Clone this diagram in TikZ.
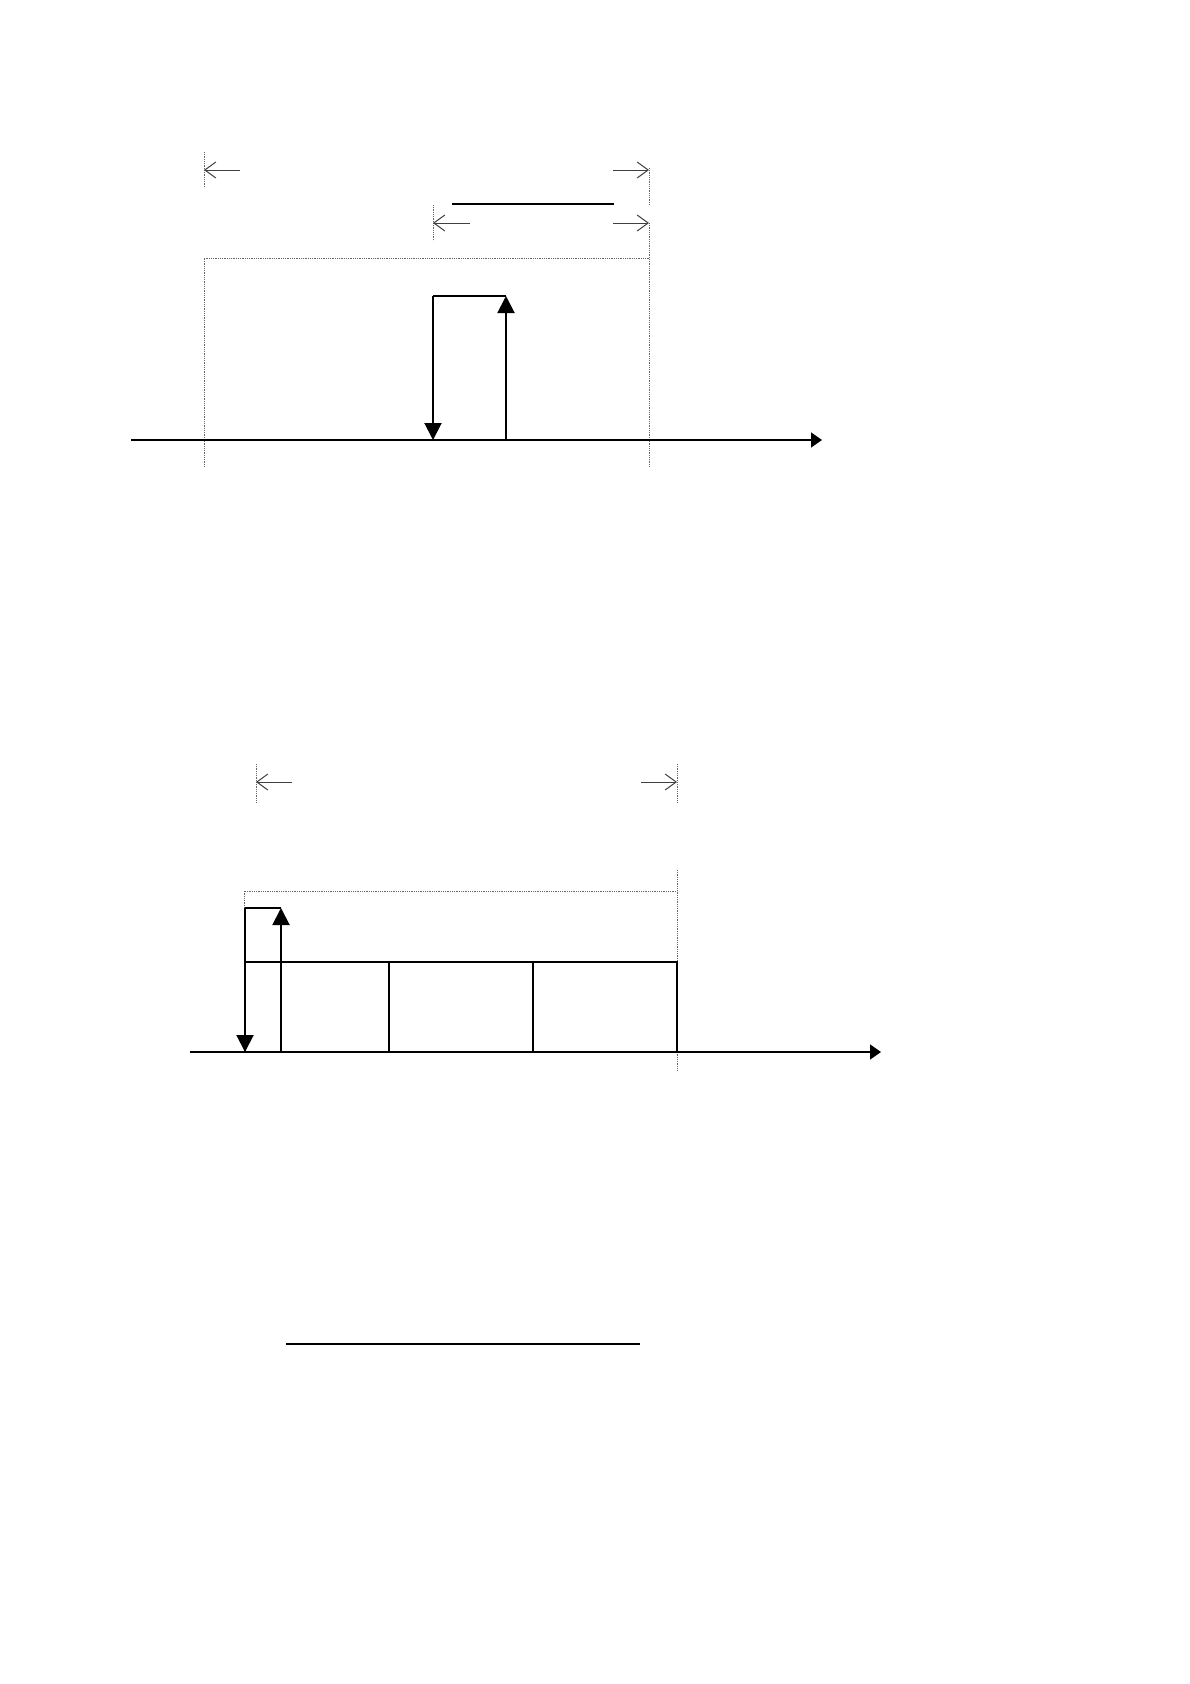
\documentclass[tikz,border=0pt]{standalone}
\usetikzlibrary{arrows.meta}
\begin{document}
\begin{tikzpicture}[x=1pt,y=-1pt,
  heavy/.style={line width=2pt,black},
  flowarrow/.style={line width=2pt,black,-{Triangle[length=17pt,width=17pt]}},
  axisline/.style={line width=1.5pt,black,-{Triangle[length=11pt,width=15pt]}},
  guide/.style={line width=1pt,black!60,dash pattern=on 1pt off 0.8pt},
  dimarrow/.style={line width=1pt,black!75,-{Straight Barb[length=11pt,width=16pt,line width=1pt]}},
  rule/.style={line width=1.5pt,black}]
\useasboundingbox (0,0) rectangle (1190,1684);
\fill[white] (0,0) rectangle (1190,1684);

% ---------- top diagram ----------
\coordinate (t1a) at (204,152); \coordinate (t1b) at (204,188);
\coordinate (t2a) at (649,168); \coordinate (t2b) at (649,205);
\coordinate (t3a) at (433,205); \coordinate (t3b) at (433,241);
\coordinate (d1s) at (240,170); \coordinate (d1e) at (204,170);
\coordinate (d2s) at (613,170); \coordinate (d2e) at (649,170);
\coordinate (d3s) at (470,223); \coordinate (d3e) at (433,223);
\coordinate (d4s) at (613,223); \coordinate (d4e) at (649,223);
\coordinate (r1) at (452,204); \coordinate (r2) at (614,204);
\coordinate (bxl) at (204,467); \coordinate (bxtl) at (204,258);
\coordinate (bxtr) at (649,258); \coordinate (bxr) at (649,467);
\coordinate (bxrt) at (649,223);
\coordinate (ax1) at (131,440); \coordinate (ax2) at (822,440);
\coordinate (fa) at (506,440); \coordinate (fb) at (506,296);
\coordinate (fc) at (433,296); \coordinate (fd) at (433,440);

\draw[guide] (t1a) -- (t1b);
\draw[guide] (t2a) -- (t2b);
\draw[guide] (t3a) -- (t3b);
\draw[dimarrow] (d1s) -- (d1e);
\draw[dimarrow] (d2s) -- (d2e);
\draw[dimarrow] (d3s) -- (d3e);
\draw[dimarrow] (d4s) -- (d4e);
\draw[rule] (r1) -- (r2);
\draw[guide] (bxl) -- (bxtl) -- (bxtr);
\draw[guide] (bxrt) -- (bxr);
\draw[axisline] (ax1) -- (ax2);
\draw[flowarrow] (fa) -- (fb);
\draw[heavy] (fb) -- (fc);
\draw[flowarrow] (fc) -- (fd);

% ---------- bottom diagram ----------
\coordinate (u1a) at (256,764); \coordinate (u1b) at (256,803);
\coordinate (u2a) at (677,764); \coordinate (u2b) at (677,803);
\coordinate (e1s) at (292,782); \coordinate (e1e) at (256,782);
\coordinate (e2s) at (641,782); \coordinate (e2e) at (677,782);
\coordinate (gl) at (244,962); \coordinate (gtl) at (244,891);
\coordinate (gtr) at (677,891);
\coordinate (grt) at (677,870); \coordinate (grb) at (677,1070);
\coordinate (bx1) at (245,962); \coordinate (bx2) at (677,1052);
\coordinate (dv1t) at (389,962); \coordinate (dv1b) at (389,1052);
\coordinate (dv2t) at (533,962); \coordinate (dv2b) at (533,1052);
\coordinate (bax1) at (190,1052); \coordinate (bax2) at (881,1052);
\coordinate (ga) at (245,908); \coordinate (gb) at (245,1052);
\coordinate (gc) at (281,908); \coordinate (gd) at (281,1052);
\coordinate (bl1) at (286,1344); \coordinate (bl2) at (640,1344);

\draw[guide] (u1a) -- (u1b);
\draw[guide] (u2a) -- (u2b);
\draw[dimarrow] (e1s) -- (e1e);
\draw[dimarrow] (e2s) -- (e2e);
\draw[guide] (gl) -- (gtl) -- (gtr);
\draw[guide] (grt) -- (grb);
\draw[heavy] (bx1) rectangle (bx2);
\draw[heavy] (dv1t) -- (dv1b);
\draw[heavy] (dv2t) -- (dv2b);
\draw[axisline] (bax1) -- (bax2);
\draw[flowarrow] (ga) -- (gb);
\draw[heavy] (ga) -- (gc);
\draw[flowarrow] (gd) -- (gc);
\draw[rule] (bl1) -- (bl2);
\end{tikzpicture}
\end{document}
